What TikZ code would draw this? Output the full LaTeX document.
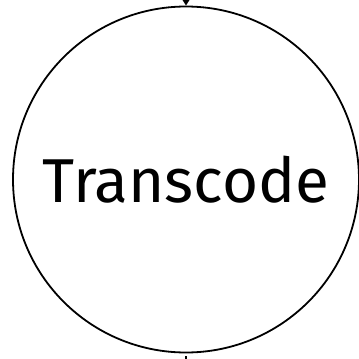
\documentclass[tikz,border=0pt]{standalone}
\usepackage{fontspec}
\setmainfont{Fira Sans}
\usetikzlibrary{arrows.meta}
\begin{document}
\begin{tikzpicture}[x=1pt,y=-1pt,
  stage/.style={circle,draw,line width=1.8pt,minimum size=346pt,inner sep=0pt,
    font=\fontsize{62}{70}\selectfont},
  flow/.style={line width=1.5pt,-{Triangle[width=7pt,length=6pt]}},
  flowout/.style={line width=1.5pt,shorten <=3pt}]
  \useasboundingbox (0,0) rectangle (359,359);
  \begin{scope}
    \clip (0,0) rectangle (359,359);
    \node[stage] (transcode) at (186,179.5) {Transcode};
    \coordinate (src) at (186,-40);
    \coordinate (dst) at (186,400);
    \draw[flow] (src) -- (transcode.north);
    \draw[flowout] (transcode.south) -- (dst);
  \end{scope}
\end{tikzpicture}
\end{document}
